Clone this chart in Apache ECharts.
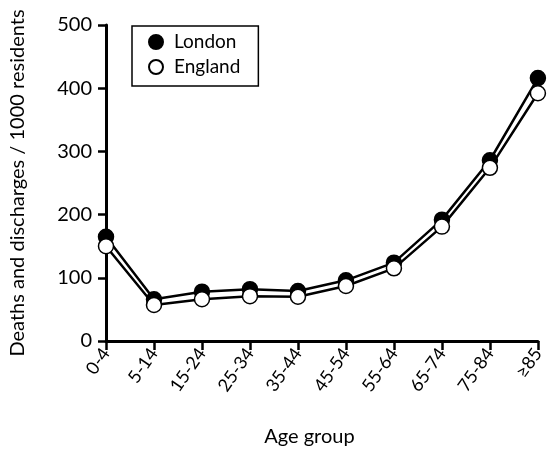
<!DOCTYPE html>
<html>
<head>
<meta charset="utf-8">
<script src="https://cdn.jsdelivr.net/npm/echarts@6/dist/echarts.min.js"></script>
<style>html,body{margin:0;padding:0;background:#fff;}#c{width:547px;height:452px;}</style>
</head>
<body>
<div id="c"></div>
<script>
const categories = ['0-4','5-14','15-24','25-34','35-44','45-54','55-64','65-74','75-84','\u226585'];
const london = [165, 66, 78, 82, 79, 96, 124, 192, 286, 416];
const england = [150, 57, 66, 71, 70, 87, 115, 181, 274, 392];
const yTicks = [0, 100, 200, 300, 400, 500];

const FONT = 'Lato';
const chart = echarts.init(document.getElementById('c'));
chart.setOption({
  animation: false,
  backgroundColor: '#fff',
  textStyle: { fontFamily: FONT, color: '#000' },
  grid: { left: 104, right: 4, top: 25, bottom: 110, containLabel: false },
  legend: {
    orient: 'vertical', left: 132, top: 26,
    borderColor: '#000', borderWidth: 1.5, borderRadius: 0,
    padding: [6, 18, 9, 16],
    itemWidth: 14, itemHeight: 14, itemGap: 5,
    icon: 'circle',
    textStyle: { fontFamily: FONT, fontSize: 19, color: '#000', lineHeight: 20, padding: [0, 0, 0, 6] },
    data: ['London', 'England']
  },
  xAxis: {
    type: 'category', data: categories, boundaryGap: false,
    axisLine: { lineStyle: { color: '#000', width: 3 } },
    axisTick: { show: true, length: 9, lineStyle: { color: '#000', width: 2.5 }, alignWithLabel: true },
    axisLabel: { rotate: 55, fontFamily: FONT, fontSize: 18, color: '#000', margin: 9, interval: 0 },
    name: 'Age group', nameLocation: 'middle', nameGap: 86,
    nameTextStyle: { fontFamily: FONT, fontSize: 20, color: '#000', padding: [0, 25, 0, 0] }
  },
  yAxis: {
    type: 'value', min: yTicks[0], max: yTicks[yTicks.length - 1], interval: 100,
    splitLine: { show: false },
    axisLine: { show: true, lineStyle: { color: '#000', width: 3 } },
    axisTick: { show: true, length: 8, lineStyle: { color: '#000', width: 2.5 } },
    axisLabel: { fontFamily: FONT, fontSize: 20, color: '#000', margin: 14 },
    name: 'Deaths and discharges / 1000 residents', nameLocation: 'middle', nameGap: 78,
    nameTextStyle: { fontFamily: FONT, fontSize: 20, color: '#000' }
  },
  series: [
    {
      name: 'London', type: 'line', data: london,
      symbol: 'circle', symbolSize: 15,
      lineStyle: { color: '#000', width: 2.5 },
      itemStyle: { color: '#000', borderColor: '#000', borderWidth: 1.5 },
      z: 2
    },
    {
      name: 'England', type: 'line', data: england,
      symbol: 'circle', symbolSize: 15,
      lineStyle: { color: '#000', width: 2.5 },
      itemStyle: { color: '#fff', borderColor: '#000', borderWidth: 1.5 },
      z: 3
    }
  ]
});
</script>
</body>
</html>
